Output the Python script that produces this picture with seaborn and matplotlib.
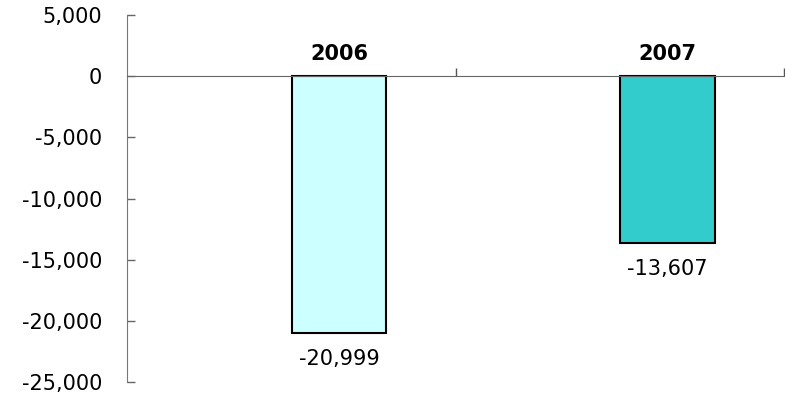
import matplotlib
matplotlib.use("Agg")
import matplotlib.pyplot as plt
import seaborn as sns
import pandas as pd

years = ["2006", "2007"]
values = [-20999, -13607]
colors = ["#CCFFFF", "#33CCCC"]

df = pd.DataFrame({"year": years, "value": values})

sns.set_style("white")
plt.rcParams["font.family"] = ["DejaVu Sans"]
plt.rcParams["text.color"] = "black"
plt.rcParams["ytick.color"] = "black"

fig = plt.figure(figsize=(7.85, 3.96), dpi=100)
ax = fig.add_axes([0.162, 0.035, 0.837, 0.927])

sns.barplot(data=df, x="year", y="value", hue="year", palette=colors,
            saturation=1, width=0.287, edgecolor="black", linewidth=1.5,
            legend=False, ax=ax)

ax.set_xlim(-0.645, 1.355)
ax.set_ylim(-25000, 5000)
ax.set_yticks(range(-25000, 5001, 5000))
ax.yaxis.set_major_formatter(matplotlib.ticker.FuncFormatter(lambda v, p: f"{int(v):,}"))
ax.tick_params(axis="y", left=True, direction="in", length=6, width=1,
               color="#666666", labelcolor="black", labelsize=15, pad=18)

ax.spines["bottom"].set_position(("data", 0))
ax.spines["bottom"].set_color("#666666")
ax.spines["left"].set_color("#777777")
ax.spines["right"].set_visible(False)
ax.spines["top"].set_visible(False)
ax.set_xticks([0.355, 1.355])
ax.set_xticklabels([])
ax.tick_params(axis="x", bottom=True, direction="in", length=6, width=1, color="#555555")
ax.set_xlabel("")
ax.set_ylabel("")

for i, (yr, v) in enumerate(zip(years, values)):
    ax.text(i, 1000, yr, ha="center", va="bottom", fontsize=15,
            fontweight="bold", color="black")
    ax.text(i, v - 1300, f"{v:,}", ha="center", va="top", fontsize=15, color="black")

fig.savefig("out.png", dpi=100)
